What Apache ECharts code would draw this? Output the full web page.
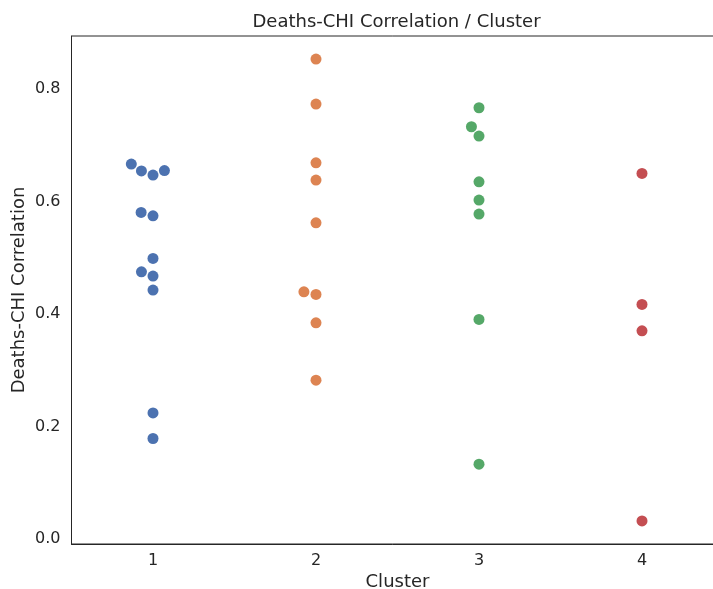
<!DOCTYPE html>
<html>
<head>
<meta charset="utf-8">
<title>Deaths-CHI Correlation / Cluster</title>
<script src="https://cdn.jsdelivr.net/npm/echarts@6/dist/echarts.min.js"></script>
<style>
  html, body { margin: 0; padding: 0; background: #fff; }
  #main { width: 713px; height: 589px; }
</style>
</head>
<body>
<div id="main"></div>
<script>
// categories / values
const clusters = [1, 2, 3, 4]
const cluster1 = [0.6667, 0.6546, 0.6471, 0.6552, 0.5808, 0.5748, 0.4990, 0.4752, 0.4676, 0.4427, 0.2245, 0.1790]
const cluster2 = [0.8533, 0.7733, 0.6690, 0.6382, 0.5623, 0.4396, 0.4350, 0.3845, 0.2827]
const cluster3 = [0.7668, 0.7330, 0.7164, 0.6352, 0.6027, 0.5778, 0.3906, 0.1333]
const cluster4 = [0.6501, 0.4172, 0.3703, 0.0325]
const yTicks = [0, 0.2, 0.4, 0.6, 0.8]

const palette = ['#4c72b0', '#dd8452', '#55a868', '#c44e52']
const ink = '#262626'
const font = 'DejaVu Sans'
const dotSize = 11
const swarmGap = 11.8 // spacing used by the swarm layout (px)

let chart = echarts.init(document.getElementById('main'), null, { renderer: 'canvas' })

chart.setOption({
  animation: false,
  backgroundColor: '#fff',
  textStyle: { fontFamily: font, color: ink },
  title: {
    text: 'Deaths-CHI Correlation / Cluster',
    left: 391.5,
    textAlign: 'center',
    top: 8,
    textStyle: { fontFamily: font, fontSize: 18, fontWeight: 'normal', color: ink }
  },
  grid: {
    left: 71.5,
    right: -10.5,
    top: 36,
    bottom: 45,
    containLabel: false,
    outerBoundsMode: 'none',
    show: true,
    borderColor: ink,
    borderWidth: 1,
    backgroundColor: 'transparent'
  },
  xAxis: {
    type: 'value',
    min: 0.5,
    max: 4.5,
    name: 'Cluster',
    nameLocation: 'middle',
    nameGap: 29,
    nameMoveOverlap: false,
    nameTextStyle: { fontFamily: font, fontSize: 18, color: ink },
    axisLine: { show: true, onZero: false, lineStyle: { color: ink, width: 1 } },
    axisTick: { show: false },
    splitLine: { show: false },
    axisLabel: {
      customValues: clusters,
      margin: 9,
      fontFamily: font,
      fontSize: 16,
      color: ink,
      formatter: v => String(Math.round(v))
    }
  },
  yAxis: {
    type: 'value',
    min: -0.0085,
    max: 0.8943,
    name: 'Deaths-CHI Correlation',
    nameLocation: 'middle',
    nameGap: 43,
    nameMoveOverlap: false,
    nameTextStyle: { fontFamily: font, fontSize: 18, color: ink },
    axisLine: { show: true, onZero: false, lineStyle: { color: ink, width: 1 } },
    axisTick: { show: false },
    splitLine: { show: false },
    axisLabel: {
      customValues: yTicks,
      margin: 11,
      fontFamily: font,
      fontSize: 16,
      color: ink,
      formatter: v => v.toFixed(1)
    }
  },
  series: []
})

// seaborn-like beeswarm, done in pixel space of the chart's own scales
function swarm (center, values) {
  const d = swarmGap
  let pts = values.map((v, i) => {
    const p = chart.convertToPixel({ gridIndex: 0 }, [center, v])
    return { i: i, x: p[0], y: -p[1], v: v }
  })
  pts.sort((a, b) => (a.y - b.y) || (a.i - b.i))
  const mid = pts[0].x
  let placed = [pts[0]]
  pts.slice(1).forEach(p => {
    let nb = []
    for (let k = placed.length - 1; k >= 0; k--) {
      if (p.y - placed[k].y < d) nb.push(placed[k])
      else break
    }
    let cands = [p.x]
    let leftFirst = true
    nb.forEach(q => {
      const dy = p.y - q.y
      const dx = Math.sqrt(Math.max(d * d - dy * dy, 0)) * 1.05
      if (leftFirst) cands.push(q.x - dx, q.x + dx)
      else cands.push(q.x + dx, q.x - dx)
      leftFirst = !leftFirst
    })
    let order = cands.map((x, k) => ({ x: x, k: k }))
    order.sort((a, b) => {
      const diff = Math.abs(a.x - mid) - Math.abs(b.x - mid)
      return Math.abs(diff) > 1e-9 ? diff : a.k - b.k
    })
    let chosen = order[0].x
    if (nb.length) {
      for (const c of order) {
        if (nb.every(q => (q.x - c.x) ** 2 + (q.y - p.y) ** 2 >= d * d)) { chosen = c.x; break }
      }
    }
    placed.push({ i: p.i, x: chosen, y: p.y, v: p.v })
  })
  return placed.map(q => [chart.convertFromPixel({ gridIndex: 0 }, [q.x, -q.y])[0], q.v])
}

const groups = [cluster1, cluster2, cluster3, cluster4]
chart.setOption({
  series: groups.map((vals, gi) => ({
    name: String(clusters[gi]),
    type: 'scatter',
    symbol: 'circle',
    symbolSize: dotSize,
    itemStyle: { color: palette[gi], opacity: 1 },
    data: swarm(clusters[gi], vals)
  }))
})
</script>
</body>
</html>
